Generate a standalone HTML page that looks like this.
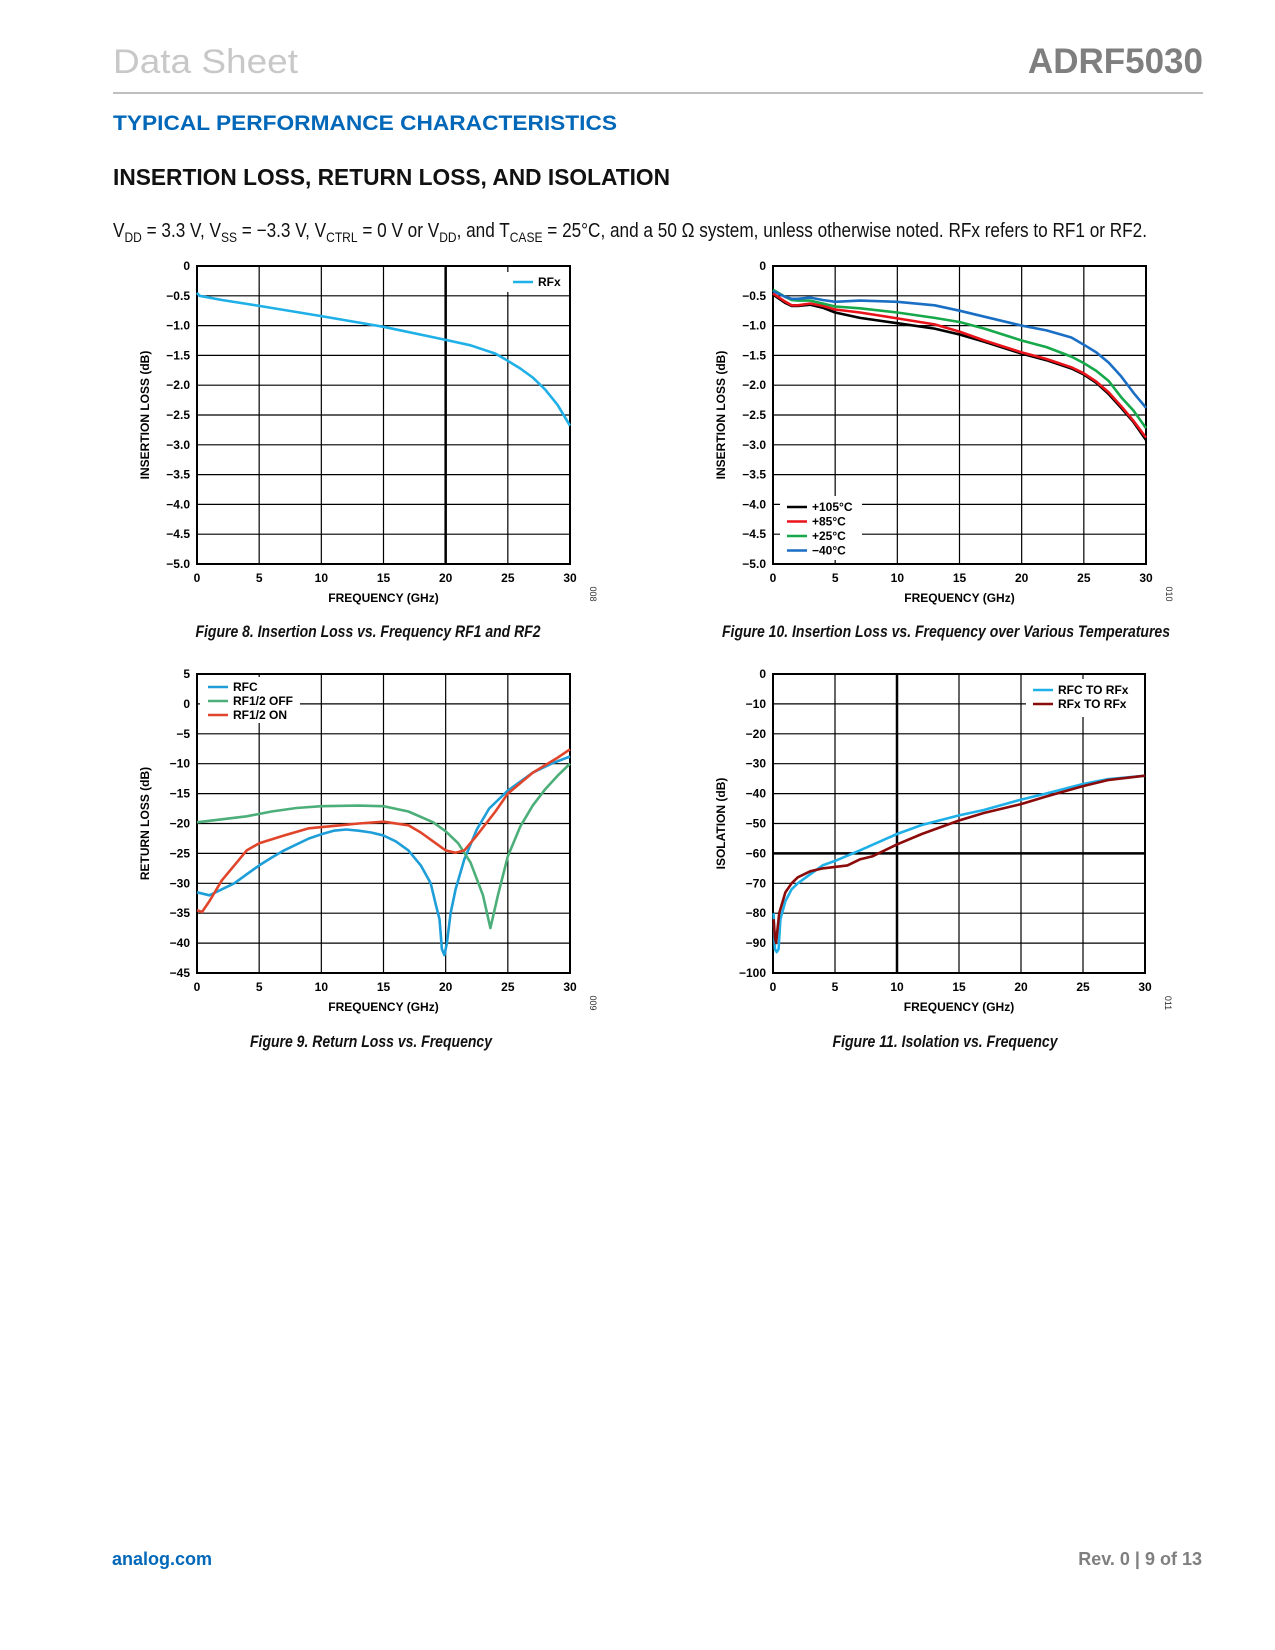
<!DOCTYPE html>
<html><head><meta charset="utf-8"><style>
body{margin:0;background:#fff}
svg{display:block;font-family:"Liberation Sans",sans-serif}
</style></head><body>
<svg id="pg" width="1275" height="1650" viewBox="0 0 1275 1650" xmlns="http://www.w3.org/2000/svg">
<text x="113" y="73" font-size="34" fill="#c8c8c8" textLength="185" lengthAdjust="spacingAndGlyphs">Data Sheet</text>
<text x="1203" y="73" font-size="35" font-weight="bold" fill="#7f7f7f" text-anchor="end">ADRF5030</text>
<line x1="113" y1="93" x2="1203" y2="93" stroke="#999" stroke-width="1.2"/>
<text x="113" y="130" font-size="21" font-weight="bold" fill="#0067b9" textLength="504" lengthAdjust="spacingAndGlyphs">TYPICAL PERFORMANCE CHARACTERISTICS</text>
<text x="113" y="185" font-size="23" font-weight="bold" fill="#111" textLength="557" lengthAdjust="spacingAndGlyphs">INSERTION LOSS, RETURN LOSS, AND ISOLATION</text>
<text x="113" y="237" font-size="20" fill="#111" textLength="1034" lengthAdjust="spacingAndGlyphs">V<tspan font-size="14" dy="5">DD</tspan><tspan dy="-5"> = 3.3 V, V</tspan><tspan font-size="14" dy="5">SS</tspan><tspan dy="-5"> = −3.3 V, V</tspan><tspan font-size="14" dy="5">CTRL</tspan><tspan dy="-5"> = 0 V or V</tspan><tspan font-size="14" dy="5">DD</tspan><tspan dy="-5">, and T</tspan><tspan font-size="14" dy="5">CASE</tspan><tspan dy="-5"> = 25°C, and a 50 Ω system, unless otherwise noted. RFx refers to RF1 or RF2.</tspan></text>
<text x="368" y="637" font-size="17" font-style="italic" font-weight="bold" fill="#111" text-anchor="middle" textLength="345" lengthAdjust="spacingAndGlyphs">Figure 8. Insertion Loss vs. Frequency RF1 and RF2</text>
<text x="946" y="637" font-size="17" font-style="italic" font-weight="bold" fill="#111" text-anchor="middle" textLength="448" lengthAdjust="spacingAndGlyphs">Figure 10. Insertion Loss vs. Frequency over Various Temperatures</text>
<text x="371" y="1047" font-size="17" font-style="italic" font-weight="bold" fill="#111" text-anchor="middle" textLength="242" lengthAdjust="spacingAndGlyphs">Figure 9. Return Loss vs. Frequency</text>
<text x="945" y="1047" font-size="17" font-style="italic" font-weight="bold" fill="#111" text-anchor="middle" textLength="225" lengthAdjust="spacingAndGlyphs">Figure 11. Isolation vs. Frequency</text>
<text x="112" y="1565" font-size="18" font-weight="bold" fill="#0067b9">analog.com</text>
<text x="1202" y="1565" font-size="18" font-weight="bold" fill="#7f7f7f" text-anchor="end">Rev. 0 | 9 of 13</text>
</svg>
<script>
const NS="http://www.w3.org/2000/svg";
const pg=document.getElementById('pg');
// Figure 8 data
const f8X=[0,0.2,2,5,10,15,20,22,24,25,26,27,28,29,30];
const f8RFx=[-0.45,-0.5,-0.57,-0.67,-0.84,-1.02,-1.24,-1.33,-1.47,-1.59,-1.72,-1.87,-2.07,-2.33,-2.68];
// Figure 10 data
const f10X=[0,1,1.5,2,3,4,5,7,10,13,15,17,20,22,24,25,26,27,28,29,30];
const f10T105=[-0.48,-0.62,-0.67,-0.67,-0.65,-0.7,-0.78,-0.87,-0.96,-1.05,-1.15,-1.27,-1.47,-1.58,-1.72,-1.82,-1.96,-2.15,-2.38,-2.62,-2.92];
const f10T85=[-0.46,-0.6,-0.66,-0.66,-0.63,-0.67,-0.73,-0.78,-0.88,-0.98,-1.1,-1.25,-1.45,-1.56,-1.7,-1.8,-1.94,-2.12,-2.35,-2.6,-2.88];
const f10T25=[-0.4,-0.52,-0.57,-0.58,-0.58,-0.63,-0.68,-0.71,-0.78,-0.87,-0.94,-1.05,-1.25,-1.36,-1.52,-1.63,-1.76,-1.93,-2.2,-2.43,-2.72];
const f10Tm40=[-0.42,-0.52,-0.55,-0.55,-0.53,-0.57,-0.6,-0.58,-0.6,-0.66,-0.75,-0.85,-1.0,-1.08,-1.2,-1.32,-1.45,-1.62,-1.85,-2.13,-2.38];
// Figure 9 data
const f9RfcX=[0,1,2,3,4,5,6,7,8,9,10,11,12,13,14,15,16,17,18,18.8,19.2,19.5,19.7,19.9,20.1,20.4,20.8,21.5,22.5,23.5,25,27,28.5,30];
const f9Rfc=[-31.5,-32,-31,-30,-28.5,-27,-25.7,-24.5,-23.5,-22.5,-21.8,-21.2,-21,-21.2,-21.5,-22,-23,-24.5,-27,-30,-33.5,-36,-41,-42,-40,-35,-31,-26,-21,-17.5,-14.5,-11.5,-10,-8.8];
const f9OffX=[0,4,6,8,10,13,15,17,19,20,21,22,23,23.6,24.2,25,26,27,28,29,30];
const f9Off=[-19.8,-18.8,-18,-17.4,-17.1,-17,-17.1,-18,-19.8,-21.3,-23.3,-26.5,-32,-37.5,-32,-25.5,-20.5,-17,-14.3,-12,-10];
const f9OnX=[0,0.4,1,2,3,4,5,7,9,11,13,15,17,18,19,20,20.8,21.5,22.5,24,25,27,29,30];
const f9On=[-34.5,-34.8,-33,-29.5,-27,-24.5,-23.3,-22,-20.8,-20.4,-20,-19.7,-20.3,-21.5,-23,-24.5,-24.9,-24.5,-22,-18,-15,-11.5,-9,-7.6];
// Figure 11 data
const f11RfcX=[0.05,0.15,0.3,0.45,0.6,1,1.5,2,3,4,5,7,10,12,15,17,20,22,25,27,30];
const f11Rfc=[-80,-92,-93,-92,-82,-76,-72,-70,-67,-64,-62.5,-59,-53.5,-50.5,-47.3,-45.5,-42,-40,-36.8,-35.2,-34];
const f11RfxX=[0.05,0.15,0.25,0.35,0.5,1,1.5,2,3,4,5,6,7,8,10,12,15,17,20,22,25,27,30];
const f11Rfx=[-82,-88,-90,-86,-80,-73,-70,-68,-66,-65,-64.5,-64,-62,-61,-57,-53.5,-49,-46.5,-43.5,-41,-37.5,-35.5,-34];
const xTicks=[0,5,10,15,20,25,30];
const f8YTicks=[0,-0.5,-1,-1.5,-2,-2.5,-3,-3.5,-4,-4.5,-5];
const f9YTicks=[5,0,-5,-10,-15,-20,-25,-30,-35,-40,-45];
const f11YTicks=[0,-10,-20,-30,-40,-50,-60,-70,-80,-90,-100];

function el(tag,attrs,parent,txt){const e=document.createElementNS(NS,tag);for(const k in attrs)e.setAttribute(k,attrs[k]);if(txt!==undefined)e.textContent=txt;(parent||pg).appendChild(e);return e;}
function fmt(v,dec){const s=Math.abs(v).toFixed(dec);return (v<0?'−':'')+s;}

function chart(o){
  const g=el('g',{});
  
  
  const X=v=>o.L+(v-0)/30*(o.R-o.L);
  const Y=v=>o.T+(o.ymax-v)/(o.ymax-o.ymin)*(o.B-o.T);
  xTicks.forEach(t=>{
    const l=el('line',{x1:X(t),x2:X(t),y1:o.T,y2:o.B,stroke:'#000','stroke-width':o.thickX===t?2.5:1.2},g);
    
    
    const tx=el('text',{x:X(t),y:o.B+18,'font-size':12,'font-weight':'bold','text-anchor':'middle'},g,String(t));
    
    
  });
  o.yTicks.forEach(t=>{
    const l=el('line',{x1:o.L,x2:o.R,y1:Y(t),y2:Y(t),stroke:'#000','stroke-width':o.thickY===t?2.5:1.2},g);
    
    
    const tx=el('text',{x:o.L-7,y:Y(t)+4,'font-size':12,'font-weight':'bold','text-anchor':'end'},g,t===0?'0':fmt(t,o.dec));
    
    
  });
  const fr=el('rect',{x:o.L,y:o.T,width:o.R-o.L,height:o.B-o.T,fill:'none',stroke:'#000','stroke-width':2},g);
  
  
  const xt=el('text',{x:(o.L+o.R)/2,y:o.B+38,'font-size':12,'font-weight':'bold','text-anchor':'middle'},g,'FREQUENCY (GHz)');
  
  
  const cy=(o.T+o.B)/2;
  const yt=el('text',{x:o.L-48,y:cy,'font-size':12,'font-weight':'bold','text-anchor':'middle',transform:`rotate(-90 ${o.L-48} ${cy})`},g,o.ytitle);
  
  
  const fid=el('text',{x:o.R+20,y:o.B+30,'font-size':9,fill:'#333','text-anchor':'middle',transform:`rotate(90 ${o.R+20} ${o.B+30})`},g,o.fid);
  
  
  const lb=el('rect',{x:o.leg.x,y:o.leg.y,width:o.leg.w,height:o.leg.h,fill:'#fff'},g);
  
  
  o.series.forEach((s,i)=>{
    const d=s.x.map((v,j)=>(j?'L':'M')+X(v).toFixed(1)+' '+Y(s.y[j]).toFixed(1)).join(' ');
    const p=el('path',{d:d,fill:'none',stroke:s.c,'stroke-width':2.6,'stroke-linejoin':'round'},g);
    
    
  });
  o.series.forEach((s,i)=>{
    const ly=o.leg.ly+i*o.leg.dy;
    const ll=el('line',{x1:o.leg.lx,x2:o.leg.lx+20,y1:ly,y2:ly,stroke:s.c,'stroke-width':2.6},g);
    
    
    const lt=el('text',{x:o.leg.lx+25,y:ly+4,'font-size':12,'font-weight':'bold'},g,s.label);
    
    
  });
}
chart({name:'chart-fig8',L:197,R:570,T:266,B:564,ymax:0,ymin:-5,yTicks:f8YTicks,dec:1,thickX:20,ytitle:'INSERTION LOSS (dB)',fid:'008',
  leg:{x:505,y:272,w:60,h:20,lx:513,ly:282,dy:14},
  series:[{n:'series-rfx',label:'RFx',c:'#1fb0e8',x:f8X,y:f8RFx}]});
chart({name:'chart-fig10',L:773,R:1146,T:266,B:564,ymax:0,ymin:-5,yTicks:f8YTicks,dec:1,ytitle:'INSERTION LOSS (dB)',fid:'010',
  leg:{x:780,y:496,w:82,h:64,lx:787,ly:507,dy:14.5},
  series:[{n:'series-105c',label:'+105°C',c:'#000',x:f10X,y:f10T105},
          {n:'series-85c',label:'+85°C',c:'#e8141a',x:f10X,y:f10T85},
          {n:'series-25c',label:'+25°C',c:'#17a84a',x:f10X,y:f10T25},
          {n:'series-minus40c',label:'−40°C',c:'#1a6fc4',x:f10X,y:f10Tm40}]});
chart({name:'chart-fig9',L:197,R:570,T:674,B:973,ymax:5,ymin:-45,yTicks:f9YTicks,dec:0,ytitle:'RETURN LOSS (dB)',fid:'009',
  leg:{x:200,y:677,w:100,h:46,lx:208,ly:687,dy:14},
  series:[{n:'series-rfc',label:'RFC',c:'#1e9ed8',x:f9RfcX,y:f9Rfc},
          {n:'series-rf12-off',label:'RF1/2 OFF',c:'#4caf7a',x:f9OffX,y:f9Off},
          {n:'series-rf12-on',label:'RF1/2 ON',c:'#e0452c',x:f9OnX,y:f9On}]});
chart({name:'chart-fig11',L:773,R:1145,T:674,B:973,ymax:0,ymin:-100,yTicks:f11YTicks,dec:0,thickX:10,thickY:-60,ytitle:'ISOLATION (dB)',fid:'011',
  leg:{x:1026,y:679,w:118,h:38,lx:1033,ly:690,dy:14},
  series:[{n:'series-rfc-to-rfx',label:'RFC TO RFx',c:'#1fb0e8',x:f11RfcX,y:f11Rfc},
          {n:'series-rfx-to-rfx',label:'RFx TO RFx',c:'#8b0a0a',x:f11RfxX,y:f11Rfx}]});
</script>
</body></html>
